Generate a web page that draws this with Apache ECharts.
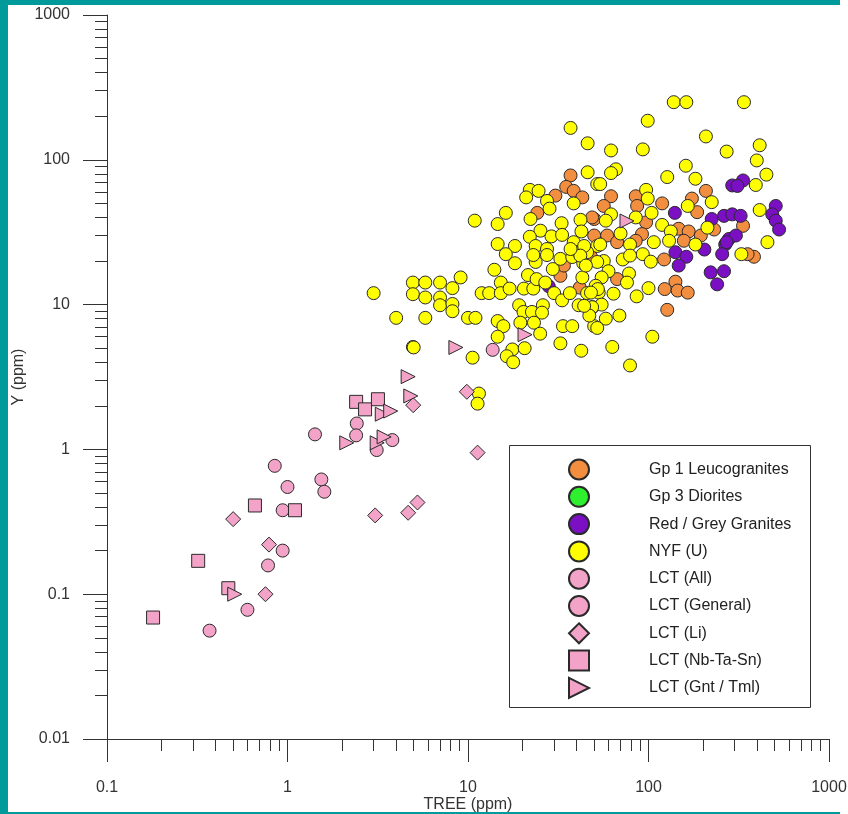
<!DOCTYPE html>
<html>
<head>
<meta charset="utf-8">
<script src="https://cdn.jsdelivr.net/npm/echarts@6/dist/echarts.min.js"></script>
<style>
html,body{margin:0;padding:0;background:#fff;}
#chart{width:848px;height:814px;}
</style>
</head>
<body>
<div id="chart"></div>
<script>
// ---- data (TREE ppm, Y ppm) ----
const SERIES_NAMES = ['Gp 1 Leucogranites','Gp 3 Diorites','Red / Grey Granites','NYF (U)','LCT (All)','LCT (General)','LCT (Li)','LCT (Nb-Ta-Sn)','LCT (Gnt / Tml)'];

const GP1_LEUCOGRANITES = [[37,78],[35,65],[38.5,61],[43,55],[30.5,56.6],[24.2,43],[50,39],[50,30],
[62,56],[56.5,48],[85,56],[86.5,48],[119,50],[208,61],[174,54],[186,43.5],[48.7,40],[97,37],[92,30.7],[85,27.6],[147,33.4],[167,32],[195,30],[231,33],[334,35],[59,30],[157,27.6],
[67,15],[122,20.5],[384,21.4],[354,22.3],[141,14.4],[123,12.8],[145,12.5],[165,12.1],[127,9.2],
[32.5,15.8],[34,18.6],[41.6,13.1],[48,21.4],[67,27]];

const GP3_DIORITES = [];

const RED_GREY_GRANITES = [[291,66.5],[334,72],[311,66],[140,43],[224,39],[262,41],[291,42],[324,41],[279,28.4],[305,30],[266,26],[507,48],[485,42],[507,38],[529,33],
[141,23],[162,21.4],[147,18.6],[256,22.3],[271,27],[221,16.7],[262,17],[240,13.8],[28,13.4],[204,24]];

const NYF_U = [[37,166],[46,130],[46,82],[52,68],[22,62],[24.6,61],[21,55],[27.4,52],[28.3,46],[38.5,50],[10.9,38],[16.2,43],[14.6,36],[22.2,39],[25.2,32.4],[33,36.5],[42,38.5],[42.5,32],[29,29.6],[33.2,30.3],[22,29.4],[14.6,26.2],[18.2,25.4],[23.7,25.4],[27.4,24.2],[38.5,27],[52,25.4],[16.2,22.3],[40,23],
[138,250],[162,250],[338,250],[99,186],[208,145],[413,126],[271,114],[62,116],[93,118],[398,99],[161,91],[66,86],[62,81],[127,76],[182,74],[450,79],[393,67],[54,68],[97,62],[99,54],[224,51],[165,48],[413,45],[62,42],[58,38],[104,43],[85,40],[119,35.5],[70,31],[212,34],[133,32],[107,27],[130,27.6],[182,26],[456,27],[79,26],[54,26],
[56.5,20],[72,20.5],[93,22.3],[103,19.8],[327,22.3],[60,17],[78,16.4],[76,14.2],[55,15.4],[51,13.5],[53,12.1],[64,11.9],[86,11.4],[100,13],[49,9.6],[55,10],[58,8],[69,8.4],[50,7.1],[105,6],[63,5.1],[79,3.8],
[3.0,12],[4.95,14.2],[4.95,11.8],[5.8,14.2],[7.0,14.2],[9.1,15.4],[8.2,13],[5.8,11.2],[7,11.2],[7,9.9],[8.2,10.1],[8.2,9],[4.0,8.1],[5.8,8.1],[10,8.1],[11,8.1],[4.95,5.1],[10.6,4.3],[14,17.4],[15.2,14.2],[11.9,12],[13.1,12],[15.2,12],[17,12.9],[20.4,12.9],[23,12.9],[21.5,16],[24,15],[26.8,14.2],[18.2,19.3],[23.7,19.7],[23,22],[27.4,22],[29.5,17.6],[32.5,20.7],[37.8,21.3],[43.5,19.3],[41,23],[45.7,23],[52,19.7],[43,15.4],[19.2,9.9],[20.3,8.9],[22.6,8.9],[26,9.9],[25.7,8.8],[30,12],[33.2,10.7],[36.7,12],[41,9.9],[45.7,12],[48.7,9.6],[52.4,12.8],[47,8.4],[14.6,7.7],[15.7,7.1],[14.6,6],[19.5,7.5],[23.2,7.5],[25.1,6.3],[33.6,7.1],[37.8,7.1],[32.5,5.4],[42.4,4.8],[17.6,4.9],[20.6,5],[16.4,4.4],[17.8,4],
[44,25.4],[41.9,21.8],[45,18.6],[37,24.2],[48,12.1],[44,9.8],[52,6.9],[79,21.8],
[5.0,5.06],[11.5,2.43],[11.3,2.07]];

const LCT_ALL = [];
const LCT_GENERAL = [[0.37,0.056],[0.6,0.078],[0.78,0.158],[0.94,0.2],[0.94,0.38],[0.85,0.77],[1.0,0.55],[1.54,0.62],[1.6,0.51],[1.42,1.27],[2.42,1.51],[2.4,1.25],[3.12,0.99],[3.81,1.16],[13.7,4.87]];
const LCT_LI = [[0.755,0.1],[0.79,0.22],[0.5,0.33],[3.06,0.35],[4.66,0.365],[5.25,0.43],[4.97,2.02],[9.85,2.5],[11.3,0.95]];
const LCT_NB_TA_SN = [[0.18,0.069],[0.32,0.17],[0.47,0.11],[0.66,0.41],[1.1,0.38],[2.4,2.13],[2.69,1.89],[3.17,2.22]];
const LCT_GNT_TML = [[0.51,0.1],[2.13,1.11],[3.14,1.11],[3.43,1.22],[3.35,1.75],[3.73,1.84],[4.82,2.34],[4.66,3.18],[8.57,5.06],[20.7,6.2],[76,37.8]];

// ---- tick labels ----
const X_MAJOR = [0.1, 1, 10, 100, 1000];
const X_LABELS = ['0.1', '1', '10', '100', '1000'];
const Y_MAJOR = [0.01, 0.1, 1, 10, 100, 1000];
const Y_LABELS = ['0.01', '0.1', '1', '10', '100', '1000'];

function minorTicks(decades) {
  const out = [];
  for (let i = 0; i < decades.length - 1; i++) {
    for (let m = 2; m <= 9; m++) out.push(+(decades[i] * m).toPrecision(6));
  }
  return out;
}
const X_MINOR = minorTicks(X_MAJOR);
const Y_MINOR = minorTicks(Y_MAJOR);

const FONT = "'Liberation Sans', Arial, sans-serif";
const INK = '#333';
const TEAL = '#009a9a';
const PINK = '#f4a3c8';

function labelFor(list, labels) {
  return function (v) {
    for (let i = 0; i < list.length; i++) {
      if (Math.abs(Math.log10(v) - Math.log10(list[i])) < 1e-6) return labels[i];
    }
    return '';
  };
}

function mk(name, data, color, symbol, size) {
  return {
    name: name, type: 'scatter', data: data,
    xAxisIndex: 0, yAxisIndex: 0,
    symbol: symbol, symbolSize: size,
    itemStyle: { color: color, borderColor: '#2a2a2a', borderWidth: 1, opacity: 1 },
    emphasis: { disabled: true },
    animation: false
  };
}

const TRI = 'path://M0,0L12,6L0,12Z';

const chart = echarts.init(document.getElementById('chart'), null, { renderer: 'canvas' });
const axisCommon = { type: 'log', logBase: 10, splitLine: { show: false }, minorTick: { show: false } };

chart.setOption({
  animation: false,
  backgroundColor: '#ffffff',
  grid: { left: 107, right: 19, top: 15, bottom: 75, containLabel: false, outerBoundsMode: 'none' },
  xAxis: [
    Object.assign({}, axisCommon, {
      min: 0.1, max: 1000, position: 'bottom',
      name: 'TREE (ppm)', nameLocation: 'middle', nameGap: 57.5, nameMoveOverlap: false,
      nameTextStyle: { fontSize: 16, color: INK, fontFamily: FONT },
      axisLine: { show: true, lineStyle: { color: INK, width: 1 } },
      axisTick: { show: true, length: 23, customValues: X_MAJOR, lineStyle: { color: INK, width: 1 } },
      axisLabel: { show: true, customValues: X_MAJOR, formatter: labelFor(X_MAJOR, X_LABELS), margin: 41, fontSize: 16, color: INK, fontFamily: FONT, showMinLabel: true, showMaxLabel: true }
    }),
    Object.assign({}, axisCommon, {
      min: 0.1, max: 1000, position: 'bottom', gridIndex: 0,
      axisLine: { show: false },
      axisTick: { show: true, length: 12, customValues: X_MINOR, lineStyle: { color: INK, width: 1 } },
      axisLabel: { show: false }
    })
  ],
  yAxis: [
    Object.assign({}, axisCommon, {
      min: 0.01, max: 1000, position: 'left',
      name: 'Y (ppm)', nameLocation: 'middle', nameGap: 80, nameMoveOverlap: false,
      nameTextStyle: { fontSize: 16, color: INK, fontFamily: FONT },
      axisLine: { show: true, lineStyle: { color: INK, width: 1 } },
      axisTick: { show: true, length: 24, customValues: Y_MAJOR, lineStyle: { color: INK, width: 1 } },
      axisLabel: { show: true, customValues: Y_MAJOR, formatter: labelFor(Y_MAJOR, Y_LABELS), margin: 37, fontSize: 16, color: INK, fontFamily: FONT, showMinLabel: true, showMaxLabel: true }
    }),
    Object.assign({}, axisCommon, {
      min: 0.01, max: 1000, position: 'left', gridIndex: 0,
      axisLine: { show: false },
      axisTick: { show: true, length: 12, customValues: Y_MINOR, lineStyle: { color: INK, width: 1 } },
      axisLabel: { show: false }
    })
  ],
  legend: {
    orient: 'vertical', left: 568, top: 458.5, z: 10, padding: 0,
    itemWidth: 20, itemHeight: 20, itemGap: 5.3,
    selectedMode: false,
    data: SERIES_NAMES,
    textStyle: { fontSize: 16, color: '#222', fontFamily: FONT, padding: [0, 0, 0, 55] }
  },
  graphic: [
    { type: 'rect', z: 5, shape: { x: 509.5, y: 445.5, width: 301, height: 262 }, style: { fill: '#fff', stroke: INK, lineWidth: 1 } },
    { type: 'rect', z: 20, shape: { x: 0, y: 0, width: 840, height: 5 }, style: { fill: TEAL } },
    { type: 'rect', z: 20, shape: { x: 0, y: 0, width: 8, height: 814 }, style: { fill: TEAL } },
    { type: 'rect', z: 20, shape: { x: 0, y: 812, width: 840, height: 2 }, style: { fill: TEAL } }
  ],
  series: [
    mk(SERIES_NAMES[0], GP1_LEUCOGRANITES, '#f28e3f', 'circle', 13),
    mk(SERIES_NAMES[1], GP3_DIORITES, '#2ef02e', 'circle', 13),
    mk(SERIES_NAMES[2], RED_GREY_GRANITES, '#7a0fc4', 'circle', 13),
    mk(SERIES_NAMES[3], NYF_U, '#ffff00', 'circle', 13),
    mk(SERIES_NAMES[4], LCT_ALL, PINK, 'circle', 13),
    mk(SERIES_NAMES[5], LCT_GENERAL, PINK, 'circle', 13),
    mk(SERIES_NAMES[6], LCT_LI, PINK, 'diamond', 15),
    mk(SERIES_NAMES[7], LCT_NB_TA_SN, PINK, 'rect', 13),
    mk(SERIES_NAMES[8], LCT_GNT_TML, PINK, TRI, 14)
  ]
});
</script>
</body>
</html>
